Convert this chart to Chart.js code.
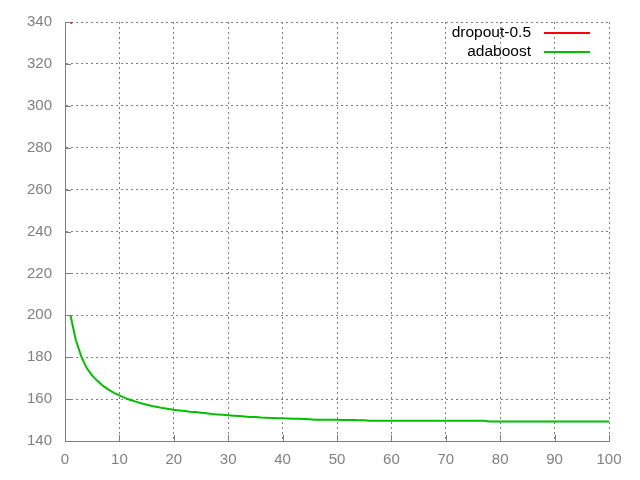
<!DOCTYPE html>
<html>
<head>
<meta charset="utf-8">
<script src="https://cdn.jsdelivr.net/npm/chart.js@4/dist/chart.umd.min.js"></script>
<style>
	html, body { margin: 0; padding: 0; background: #fff; }
	#wrap { width: 640px; height: 480px; }
</style>
</head>
<body>
<div id="wrap"><canvas id="chart" width="640" height="480"></canvas></div>
<script>
// values
const xTicks = [0, 10, 20, 30, 40, 50, 60, 70, 80, 90, 100];
const yTicks = [140, 160, 180, 200, 220, 240, 260, 280, 300, 320, 340];

const dropoutX = [1, 2];
const dropoutY = [339.3, 342];

const adaboostY = [
	200.0, 188.1, 180.3, 174.8, 171.2, 168.6, 166.3, 164.5, 163.0, 161.8,
	160.6, 159.6, 158.8, 158.0, 157.3, 156.7, 156.2, 155.7, 155.3, 154.9,
	154.6, 154.3, 154.0, 153.8, 153.5, 153.2, 152.9, 152.7, 152.5, 152.3,
	152.1, 151.9, 151.7, 151.5, 151.4, 151.2, 151.1, 151.0, 150.9, 150.8,
	150.7, 150.6, 150.6, 150.5, 150.4, 150.2, 150.2, 150.1, 150.1, 150.1,
	150.0, 150.0, 150.0, 149.9, 149.9, 149.7, 149.7, 149.7, 149.7, 149.7,
	149.7, 149.7, 149.7, 149.7, 149.7, 149.7, 149.7, 149.7, 149.7, 149.7,
	149.7, 149.7, 149.7, 149.7, 149.7, 149.7, 149.7, 149.3, 149.3, 149.3,
	149.3, 149.3, 149.3, 149.3, 149.3, 149.3, 149.3, 149.3, 149.3, 149.3,
	149.3, 149.3, 149.3, 149.3, 149.3, 149.3, 149.3, 149.3, 149.3, 149.3
];

const gray = '#808080';
const fontFamily = "'Liberation Sans', Arial, sans-serif";
const font = { family: fontFamily, size: 15 };

// gnuplot style: ticks drawn inward, legend text left of the sample line
const gnuplotBits = {
	id: 'gnuplotBits',
	afterDraw: (chart) => {
		const ctx = chart.ctx;
		const area = chart.chartArea;
		const xs = chart.scales.x, ys = chart.scales.y;
		ctx.save();
		ctx.strokeStyle = gray;
		ctx.lineWidth = 1;
		ctx.beginPath();
		xTicks.forEach(v => {
			const px = Math.round(xs.getPixelForValue(v)) + 0.5;
			ctx.moveTo(px, area.bottom);
			ctx.lineTo(px, area.bottom - 6);
		});
		yTicks.forEach(v => {
			const py = Math.round(ys.getPixelForValue(v)) + 0.5;
			ctx.moveTo(area.left, py);
			ctx.lineTo(area.left + 6, py);
		});
		ctx.stroke();

		ctx.font = '15.5px ' + fontFamily;
		ctx.textAlign = 'right';
		ctx.textBaseline = 'middle';
		chart.data.datasets.forEach((ds, i) => {
			const y = 33 + i * 18.5;
			ctx.fillStyle = '#000';
			ctx.fillText(ds.label, 531, y);
			ctx.strokeStyle = ds.borderColor;
			ctx.lineWidth = 2;
			ctx.beginPath();
			ctx.moveTo(544, Math.round(y));
			ctx.lineTo(590, Math.round(y));
			ctx.stroke();
		});
		ctx.restore();
	}
};

const ctx = document.getElementById('chart').getContext('2d');

const chart = new Chart(ctx, {
	type: 'line',
	data: {
		datasets: [
			{
				label: 'dropout-0.5',
				data: dropoutX.map((x, i) => ({ x: x, y: dropoutY[i] })),
				borderColor: '#ff0000',
				borderWidth: 2,
				pointRadius: 0,
				tension: 0,
			},
			{
				label: 'adaboost',
				data: adaboostY.map((y, i) => ({ x: i + 1, y: y })),
				borderColor: '#00c000',
				borderWidth: 2,
				pointRadius: 0,
				tension: 0,
			}
		]
	},
	options: {
		responsive: false,
		animation: false,
		events: [],
		layout: { padding: { top: 20, right: 31, left: 0, bottom: 0 } },
		scales: {
			x: {
				type: 'linear',
				min: 0,
				max: 100,
				afterBuildTicks: (scale) => { scale.ticks = xTicks.map(v => ({ value: v })); },
				afterFit: (scale) => { scale.height = 39; },
				ticks: { color: gray, font: font, padding: 10, maxRotation: 0 },
				grid: {
					color: gray,
					lineWidth: 1,
					drawTicks: false,
				},
				border: { display: true, color: gray, width: 1, dash: [2, 3] },
			},
			y: {
				type: 'linear',
				min: 140,
				max: 340,
				afterBuildTicks: (scale) => { scale.ticks = yTicks.map(v => ({ value: v })); },
				afterFit: (scale) => { scale.width = 65; },
				ticks: { color: gray, font: font, padding: 13 },
				grid: {
					color: gray,
					lineWidth: 1,
					drawTicks: false,
				},
				border: { display: true, color: gray, width: 1, dash: [2, 3] },
			}
		},
		plugins: {
			legend: { display: false },
			title: { display: false },
			tooltip: { enabled: false },
		}
	},
	plugins: [gnuplotBits]
});
</script>
</body>
</html>
